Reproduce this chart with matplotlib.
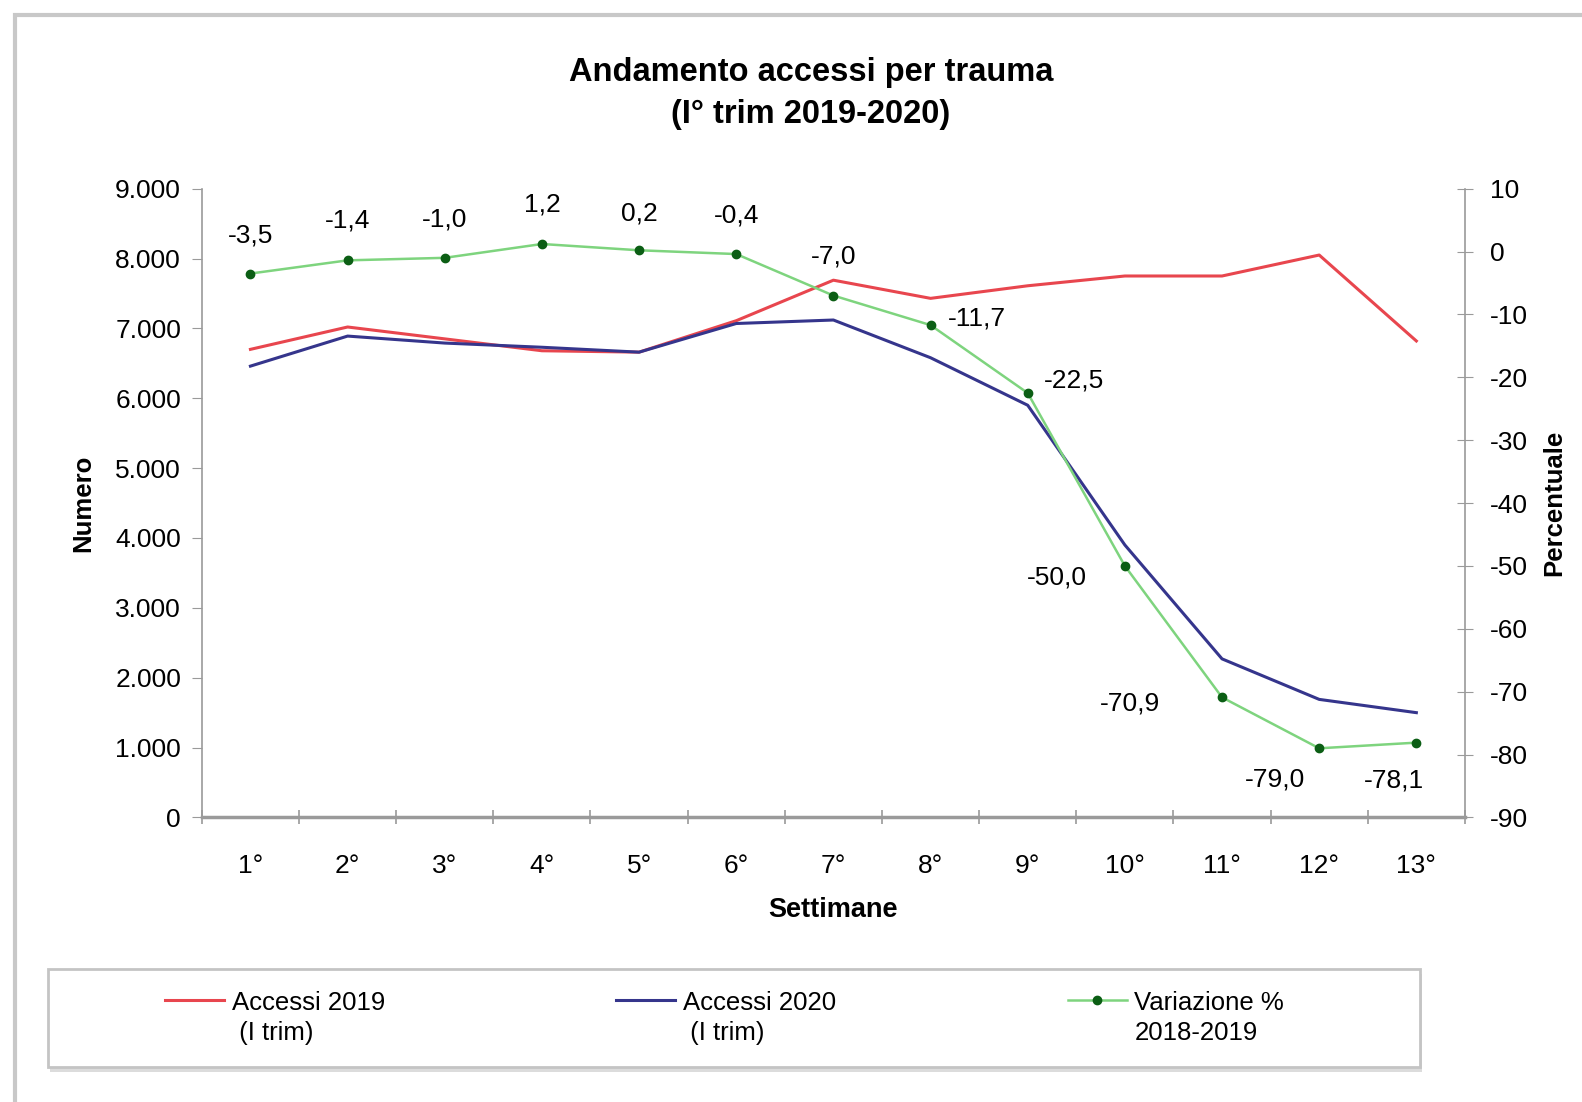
import matplotlib
matplotlib.use("Agg")
import matplotlib.pyplot as plt
from matplotlib.ticker import FuncFormatter, FixedLocator
from matplotlib.patches import Rectangle
from matplotlib.lines import Line2D
from matplotlib.legend_handler import HandlerLine2D

plt.rcParams['font.family'] = ['Liberation Sans', 'DejaVu Sans']
plt.rcParams['axes.unicode_minus'] = False

weeks = ["1°", "2°", "3°", "4°", "5°", "6°", "7°", "8°", "9°", "10°", "11°", "12°", "13°"]
accessi_2019 = [6700, 7020, 6850, 6680, 6660, 7110, 7690, 7430, 7610, 7750, 7750, 8050, 6820]
accessi_2020 = [6460, 6890, 6790, 6730, 6660, 7070, 7120, 6580, 5900, 3900, 2270, 1690, 1500]
variazione = [-3.5, -1.4, -1.0, 1.2, 0.2, -0.4, -7.0, -11.7, -22.5, -50.0, -70.9, -79.0, -78.1]
label_offsets = [(0, 38), (0, 40), (0, 38), (0, 39), (0, 37), (0, 39), (0, 39),
                 (46, 7), (46, 13), (-68, -12), (-92, -6), (-44, -31), (-22, -38)]

title = "Andamento accessi per trauma\n(I° trim 2019-2020)"
legend_labels = ["Accessi 2019\n (I trim)", "Accessi 2020\n (I trim)", "Variazione %\n2018-2019"]

RED = "#e8464e"
BLUE = "#35358c"
GREEN_LINE = "#7ed47e"
GREEN_MARK = "#0b5e14"
AXIS = "#9a9a9a"
FS = 19

fig = plt.figure(figsize=(15.82, 11.02), dpi=100)
fig.patches.append(Rectangle((0.0095, -0.2), 1.2, 1.186, transform=fig.transFigure,
                             fill=False, edgecolor="#c8c8c8", linewidth=3))

ax = fig.add_axes([0.1276, 0.2582, 0.926 - 0.1276, 0.8288 - 0.2582])
x = list(range(1, len(weeks) + 1))

ax.plot(x, accessi_2019, color=RED, linewidth=2.2, zorder=3)
ax.plot(x, accessi_2020, color=BLUE, linewidth=2.2, zorder=3)
ax.set_xlim(0.5, len(weeks) + 0.5)
ax.set_ylim(0, 9000)
ax.set_yticks(range(0, 9001, 1000))
ax.yaxis.set_major_formatter(FuncFormatter(lambda v, p: f"{int(v):,}".replace(",", ".")))
ax.set_xticks(x)
ax.set_xticklabels(weeks)
ax.xaxis.set_minor_locator(FixedLocator([i + 0.5 for i in range(0, len(weeks) + 1)]))
ax.tick_params(axis='x', which='major', length=0, pad=26, labelsize=FS)
ax.tick_params(axis='x', which='minor', length=10, direction='inout', color=AXIS, width=1.2)
ax.tick_params(axis='y', which='major', length=7, direction='out', color=AXIS, labelsize=FS, pad=8)

ax.spines['top'].set_visible(False)
ax.spines['right'].set_visible(False)
ax.spines['left'].set_color(AXIS)
ax.spines['bottom'].set_color(AXIS)
ax.spines['bottom'].set_linewidth(2.5)
ax.spines['left'].set_linewidth(1.2)

ax2 = ax.twinx()
ax2.plot(x, variazione, color=GREEN_LINE, linewidth=1.8, marker='o', markersize=6,
         markerfacecolor=GREEN_MARK, markeredgecolor=GREEN_MARK, zorder=4)
ax2.set_ylim(-90, 10)
ax2.set_yticks(range(-90, 11, 10))
ax2.tick_params(axis='y', length=12, direction='inout', color=AXIS, labelsize=FS, pad=12)
for s in ['top', 'left', 'bottom']:
    ax2.spines[s].set_visible(False)
ax2.spines['right'].set_color(AXIS)
ax2.spines['right'].set_linewidth(1.2)

for xi, v, off in zip(x, variazione, label_offsets):
    ax2.annotate(f"{v:.1f}".replace(".", ","), (xi, v), xytext=off,
                 textcoords='offset pixels', ha='center', va='center', fontsize=FS)

ax.set_ylabel("Numero", fontsize=18.5, fontweight='bold', labelpad=14)
ax2.set_ylabel("Percentuale", fontsize=18.5, fontweight='bold', labelpad=10, rotation=90)
ax.set_xlabel("Settimane", fontsize=19.5, fontweight='bold', labelpad=14)

fig.text(0.5125, 0.915, title, ha='center', va='center', fontsize=23.5, fontweight='bold',
         linespacing=1.45)

# legend frame with shadow
fig.patches.append(Rectangle((0.0316, 0.0268), 0.867, 0.0889, transform=fig.transFigure,
                             facecolor="#dcdcdc", edgecolor="none"))
fig.patches.append(Rectangle((0.0306, 0.0318), 0.867, 0.0889, transform=fig.transFigure,
                             facecolor="white", edgecolor="#c4c4c4", linewidth=2))


class RaisedLine(HandlerLine2D):
    def create_artists(self, legend, orig_handle, xdescent, ydescent, width, height,
                       fontsize, trans):
        return super().create_artists(legend, orig_handle, xdescent, ydescent - 26,
                                      width, height, fontsize, trans)


handles = [Line2D([], [], color=RED, linewidth=2.2),
           Line2D([], [], color=BLUE, linewidth=2.2),
           Line2D([], [], color=GREEN_LINE, linewidth=1.8, marker='o', markersize=6,
                  markerfacecolor=GREEN_MARK, markeredgecolor=GREEN_MARK)]
leg = fig.legend(handles, legend_labels, loc='center', ncol=3,
                 bbox_to_anchor=(0.458, 0.0762), fontsize=18.5,
                 frameon=False, handlelength=2.3, handletextpad=0.3,
                 columnspacing=9.0, borderaxespad=0, borderpad=0,
                 handler_map={Line2D: RaisedLine()})
for t in leg.get_texts():
    t.set_linespacing(1.35)

fig.savefig("out.png", dpi=100)
